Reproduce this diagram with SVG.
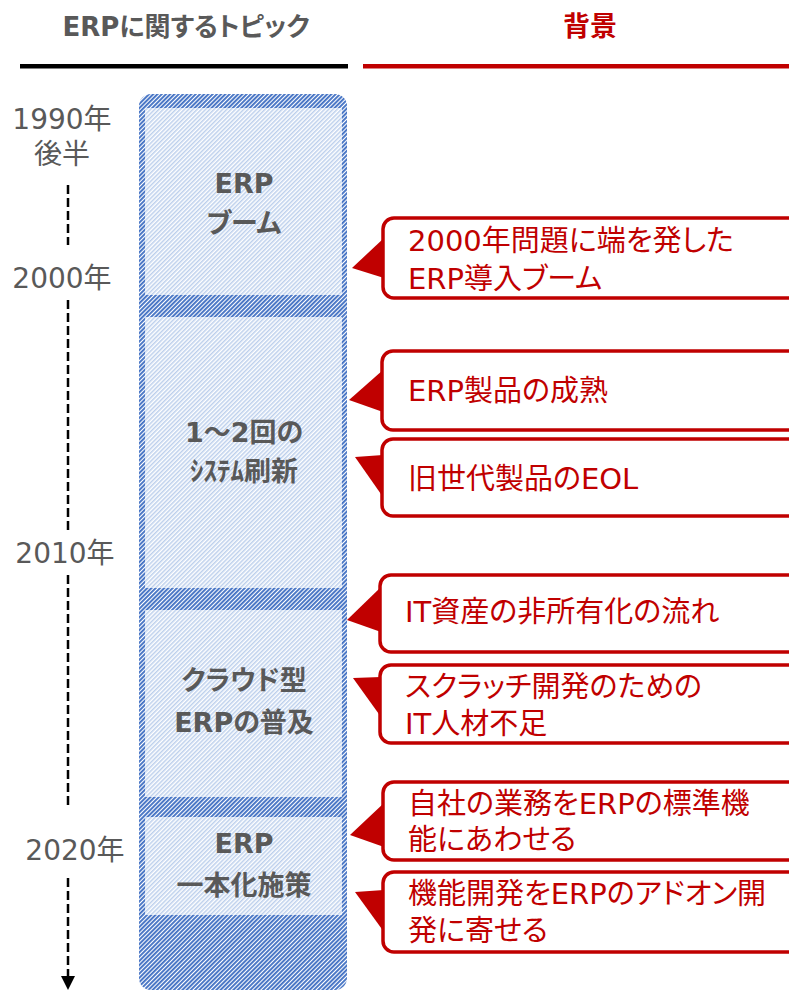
<svg xmlns="http://www.w3.org/2000/svg" width="789" height="991" viewBox="0 0 789 991">
<defs>
<style>
.hd{font-family:"DejaVu Sans","Noto Sans CJK JP",sans-serif;font-weight:bold;font-size:26px;fill:#595959;text-anchor:middle;font-feature-settings:"palt";}
.hr{font-family:"DejaVu Sans","Noto Sans CJK JP",sans-serif;font-weight:bold;font-size:27px;fill:#C00000;text-anchor:middle;}
.yr{font-family:"DejaVu Sans","Noto Sans CJK JP",sans-serif;font-size:28px;fill:#595959;text-anchor:middle;}
.pl{font-family:"DejaVu Sans","Noto Sans CJK JP",sans-serif;font-weight:bold;font-size:27px;fill:#595959;text-anchor:middle;font-feature-settings:"palt";}
.ct{font-family:"DejaVu Sans","Noto Sans CJK JP",sans-serif;font-size:29px;fill:#C00000;font-feature-settings:"palt";}
.cb{fill:#fff;stroke:#C00000;stroke-width:3.5;}
.cp{fill:#C00000;}
.tl{stroke:#000;stroke-width:2.5;stroke-dasharray:9 4;fill:none;}
</style>
<pattern id="dense" patternUnits="userSpaceOnUse" width="3" height="3" patternTransform="rotate(45)">
<rect width="3" height="3" fill="#fff"/>
<rect width="1.9" height="3" fill="#4472C4"/>
</pattern>
<pattern id="light" patternUnits="userSpaceOnUse" width="3" height="3" patternTransform="rotate(45)">
<rect width="3" height="3" fill="#fff"/>
<rect width="1.5" height="3" fill="#BCCFEC"/>
</pattern>
</defs>
<rect width="789" height="991" fill="#fff"/>

<g id="header">
<text class="hd" x="186" y="36">ERPに関するトピック</text>
<rect x="20" y="64" width="328" height="4.5" fill="#000"/>
<text class="hr" x="590" y="36">背景</text>
<rect x="363" y="64" width="426" height="4.5" fill="#C00000"/>
</g>

<g id="years">
<text class="yr" x="62" y="129">1990年</text>
<text class="yr" x="62" y="164">後半</text>
<text class="yr" x="62" y="288">2000年</text>
<text class="yr" x="65" y="563">2010年</text>
<text class="yr" x="75" y="860">2020年</text>
</g>

<g id="connectors">
<line class="tl" x1="68" y1="185" x2="68" y2="245"/>
<line class="tl" x1="68" y1="300" x2="68" y2="533"/>
<line class="tl" x1="68" y1="575" x2="68" y2="808"/>
<line class="tl" x1="68" y1="878" x2="68" y2="978"/>
<polygon points="61,976 75,976 68,990" fill="#000"/>
</g>

<g id="bar">
<rect x="139" y="94" width="208" height="896" rx="12" fill="url(#dense)"/>
</g>
<g id="panel-boom">
<rect x="145" y="108" width="197" height="187" fill="url(#light)"/>
<text class="pl" x="244" y="193">ERP</text>
<text class="pl" x="244" y="233">ブーム</text>
</g>
<g id="panel-renewal">
<rect x="145" y="317" width="197" height="271" fill="url(#light)"/>
<text class="pl" x="244" y="442">1～2回の</text>
<text class="pl" x="244" y="481">ｼｽﾃﾑ刷新</text>
</g>
<g id="panel-cloud">
<rect x="145" y="610" width="197" height="187" fill="url(#light)"/>
<text class="pl" x="244" y="690">クラウド型</text>
<text class="pl" x="244" y="732">ERPの普及</text>
</g>
<g id="panel-unify">
<rect x="145" y="817" width="197" height="98" fill="url(#light)"/>
<text class="pl" x="244" y="853">ERP</text>
<text class="pl" x="244" y="895">一本化施策</text>
</g>

<g id="callout1">
<rect class="cb" x="383" y="218" width="420" height="80" rx="11"/>
<polygon class="cp" points="384,238 352,268 384,278"/>
<text class="ct" x="408" y="251">2000年問題に端を発した</text>
<text class="ct" x="408" y="289">ERP導入ブーム</text>
</g>
<g id="callout2">
<rect class="cb" x="382" y="351" width="420" height="79" rx="11"/>
<polygon class="cp" points="383,370 349,400 383,412"/>
<text class="ct" x="408" y="401">ERP製品の成熟</text>
</g>
<g id="callout3">
<rect class="cb" x="382" y="439" width="420" height="77" rx="11"/>
<polygon class="cp" points="355,457 383,455 383,497"/>
<text class="ct" x="408" y="489">旧世代製品のEOL</text>
</g>
<g id="callout4">
<rect class="cb" x="380" y="575" width="420" height="77" rx="11"/>
<polygon class="cp" points="381,587 347,620 381,632"/>
<text class="ct" x="405" y="622">IT資産の非所有化の流れ</text>
</g>
<g id="callout5">
<rect class="cb" x="380" y="665" width="420" height="78" rx="11"/>
<polygon class="cp" points="353,678 381,677 381,717"/>
<text class="ct" x="405" y="697">スクラッチ開発のための</text>
<text class="ct" x="405" y="734">IT人材不足</text>
</g>
<g id="callout6">
<rect class="cb" x="383" y="782" width="420" height="78" rx="11"/>
<polygon class="cp" points="384,803 350,835 384,847"/>
<text class="ct" x="408" y="814">自社の業務をERPの標準機</text>
<text class="ct" x="408" y="850">能にあわせる</text>
</g>
<g id="callout7">
<rect class="cb" x="383" y="872" width="420" height="80" rx="11"/>
<polygon class="cp" points="355,892 384,890 384,932"/>
<text class="ct" x="408" y="904">機能開発をERPのアドオン開</text>
<text class="ct" x="408" y="941">発に寄せる</text>
</g>
</svg>
